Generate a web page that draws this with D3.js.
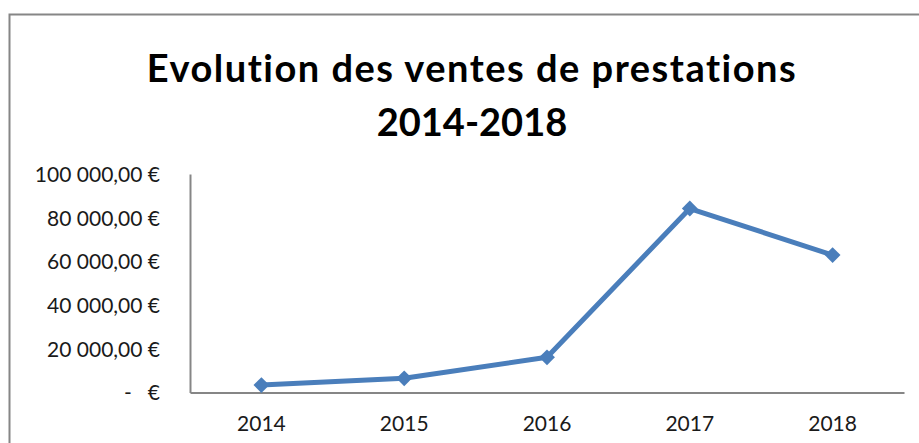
<!DOCTYPE html>
<html>
<head>
<meta charset="utf-8">
<script src="https://cdn.jsdelivr.net/npm/d3@7"></script>
<style>
   body { margin: 0; background: #fff; }
   .title { font-family: Lato, "Open Sans", sans-serif; font-weight: bold; fill: #000; font-variant-ligatures: none; }
   .axis text { font-family: Lato, "Open Sans", sans-serif; font-size: 21px; fill: #1a1a1a; }
</style>
</head>
<body>
<div id="chart"></div>
<script>
const width = 919;
const height = 443;

// data
const years = ["2014", "2015", "2016", "2017", "2018"];
const ventes = [3400, 6500, 16100, 84200, 62900];
const yTicks = [0, 20000, 40000, 60000, 80000, 100000];

const title1 = "Evolution des ventes de prestations";
const title2 = "2014-2018";

const color = "#4a7ebb";
const grey = "#868686";

const svg = d3.select("#chart").append("svg")
   .attr("width", width)
   .attr("height", height);

// frame
svg.append("rect")
   .attr("x", 9.5).attr("y", 14.5)
   .attr("width", 940).attr("height", 460)
   .style("fill", "none")
   .style("stroke", grey)
   .style("stroke-width", 2);

// title
svg.append("text")
   .attr("class", "title")
   .attr("x", 472).attr("y", 82)
   .style("font-size", "38px")
   .style("letter-spacing", "1.5px")
   .style("text-anchor", "middle")
   .text(title1);
svg.append("text")
   .attr("class", "title")
   .attr("x", 472).attr("y", 136)
   .style("font-size", "38px")
   .style("text-anchor", "middle")
   .text(title2);

const margin = {top: 174, left: 190, right: 904, bottom: 392.5};

const x = d3.scaleBand()
   .domain(years)
   .range([margin.left, margin.right]);

const y = d3.scaleLinear()
   .domain([0, 100000])
   .range([margin.bottom, margin.top]);

const locale = d3.formatLocale({decimal: ",", thousands: "\u00a0", grouping: [3], currency: ["", " €"]});
const fmt = locale.format(",.2f");
const yFormat = d => d === 0 ? "-\u00a0\u00a0\u00a0€" : fmt(d) + "\u00a0€";

// y axis
const yAxis = svg.append("g")
   .attr("class", "axis")
   .attr("transform", `translate(${margin.left},0)`)
   .call(d3.axisLeft(y).tickValues(yTicks).tickFormat(yFormat).tickSize(0).tickPadding(30));
yAxis.select(".domain").style("stroke", grey).style("stroke-width", 2);
yAxis.selectAll("text").attr("dy", "0.35em");

// x axis
const xAxis = svg.append("g")
   .attr("class", "axis")
   .attr("transform", `translate(0,${margin.bottom})`)
   .call(d3.axisBottom(x).tickSize(0).tickPadding(24));
xAxis.select(".domain").style("stroke", grey).style("stroke-width", 2);

// line
const line = d3.line()
   .x((d, i) => x(years[i]) + x.bandwidth() / 2)
   .y(d => y(d));

svg.append("path")
   .datum(ventes)
   .attr("d", line)
   .style("fill", "none")
   .style("stroke", color)
   .style("stroke-width", 5)
   .style("stroke-linejoin", "round");

svg.selectAll("path.marker")
   .data(ventes)
   .enter()
   .append("path")
   .attr("class", "marker")
   .attr("d", d3.symbol().type(d3.symbolDiamond2).size(160))
   .attr("transform", (d, i) => `translate(${x(years[i]) + x.bandwidth() / 2},${y(d)})`)
   .style("fill", color);
</script>
</body>
</html>
